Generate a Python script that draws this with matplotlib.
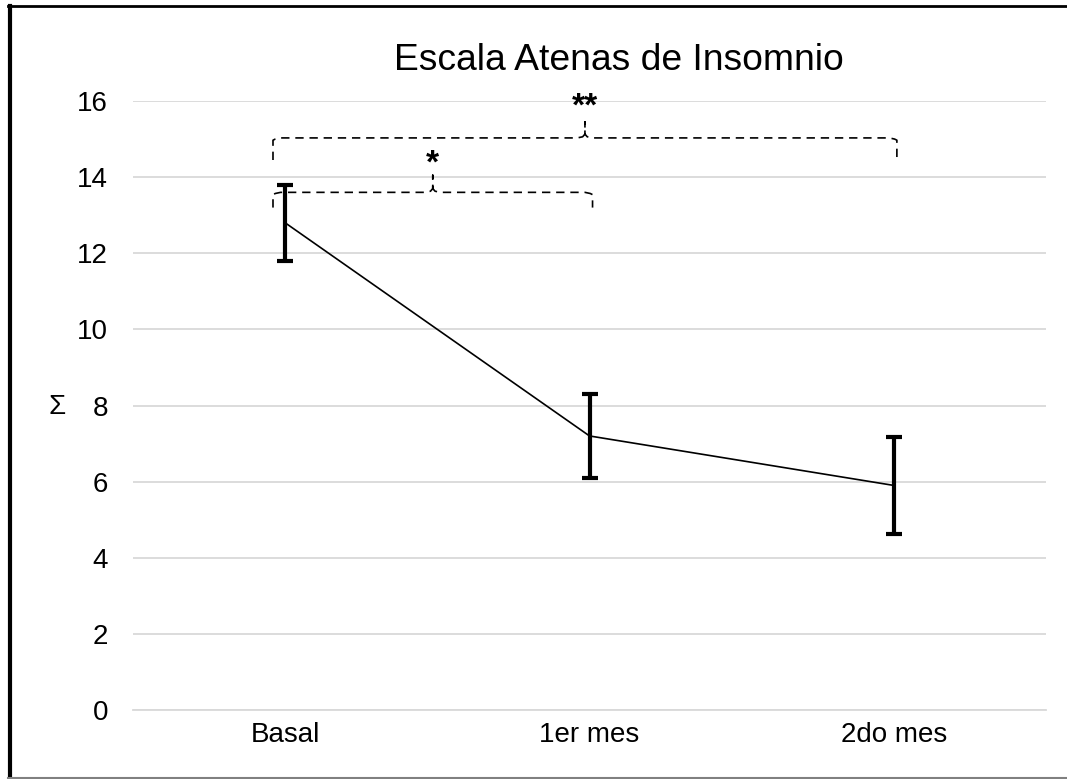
import matplotlib
matplotlib.use("Agg")
import matplotlib.pyplot as plt
from matplotlib.lines import Line2D
import numpy as np

plt.rcParams['font.family'] = ['Liberation Sans', 'DejaVu Sans']

categories = ["Basal", "1er mes", "2do mes"]
means = [12.8, 7.2, 5.9]
errors = [1.0, 1.1, 1.28]
yticks = [0, 2, 4, 6, 8, 10, 12, 14, 16]
title = "Escala Atenas de Insomnio"
ylabel = "Σ"

# significance brackets: (start, end, bar level, end drop, tip, label baseline, label)
brackets = [
    (0, 1, 13.6, 13.2, 14.05, 14.12, "*"),
    (0, 2, 15.03, 14.45, 15.45, 15.62, "**"),
]

W, H = 1067, 779
fig = plt.figure(figsize=(W / 100, H / 100), dpi=100)
ax = fig.add_axes([133 / W, 1 - 710 / H, (1046 - 133) / W, (710 - 101) / H])

x = np.arange(len(categories))
ax.plot(x, means, color='black', lw=1.2, zorder=3)
ax.errorbar(x, means, yerr=errors, fmt='none', ecolor='black', elinewidth=3,
            capsize=6, capthick=3, zorder=4)

ax.set_xlim(-0.5, len(categories) - 0.5)
ax.set_ylim(0, 16)
ax.set_yticks(yticks)
ax.set_xticks(x)
ax.set_xticklabels(categories, fontsize=20)
ax.tick_params(axis='y', labelsize=20, length=0, pad=18)
ax.tick_params(axis='x', length=0, pad=9)
ax.yaxis.grid(True, color='#d9d9d9', lw=1.3)
ax.set_axisbelow(True)
for s in ax.spines.values():
    s.set_visible(False)
ax.spines['bottom'].set_visible(True)
ax.spines['bottom'].set_color('#d9d9d9')
ax.spines['bottom'].set_linewidth(1.3)

fig.text(57 / W, 1 - 407 / H, ylabel, fontsize=20, ha='center', va='center')
fig.text(619 / W, 1 - 60 / H, title, fontsize=26.8, ha='center', va='center')

# curly dashed brackets
for (a, b, lvl, drop, tip, laby, lab) in brackets:
    xa = a - 0.04
    xb = b + 0.01
    xm = (xa + xb) / 2
    r = 0.025
    ry = 0.2
    pts_x = [xa, xa, xa + r * 0.3, xa + r, xm - r, xm - r * 0.3, xm,
             xm, xm, xm + r * 0.3, xm + r, xb - r, xb - r * 0.3, xb, xb]
    pts_y = [drop, lvl - ry * 0.3, lvl - 0.03, lvl, lvl, lvl + 0.03, lvl + ry * 0.5,
             tip, lvl + ry * 0.5, lvl + 0.03, lvl, lvl, lvl - 0.03, lvl - ry * 0.3, drop]
    ax.plot(pts_x, pts_y, color='black', lw=1.2, ls=(0, (5, 3.5)), zorder=5,
            clip_on=False)
    ax.text(xm, laby, lab, ha='center', va='baseline', fontsize=24,
            fontweight='bold', clip_on=False)

# figure frame
fig.add_artist(Line2D([10 / W, 10 / W], [0, 1 - 6 / H], transform=fig.transFigure,
                      color='black', lw=3))
fig.add_artist(Line2D([8 / W, 1], [1 - 6 / H, 1 - 6 / H], transform=fig.transFigure,
                      color='black', lw=2))
fig.add_artist(Line2D([8 / W, 1], [1 - 778 / H, 1 - 778 / H], transform=fig.transFigure,
                      color='#808080', lw=1.5))

fig.savefig("out.png", dpi=100)
